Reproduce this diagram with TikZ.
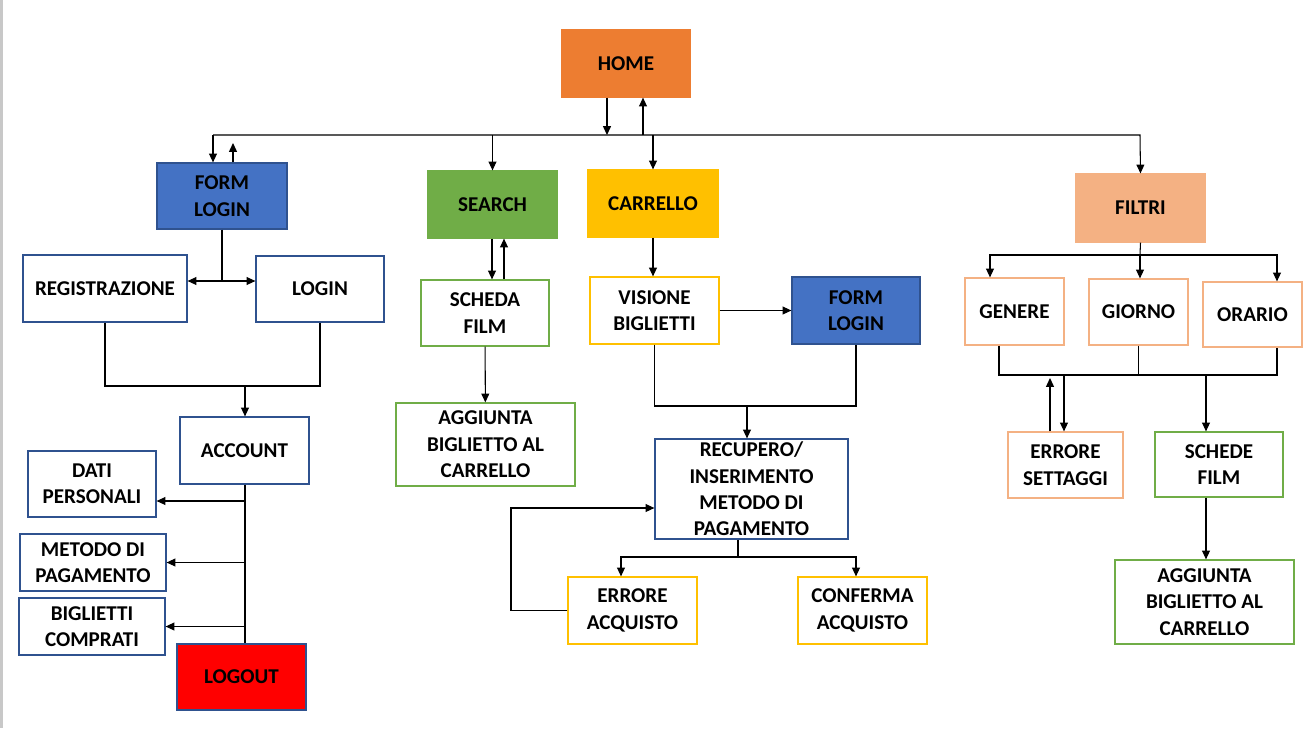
\documentclass[tikz,border=0pt]{standalone}
\usepackage{fontspec}
\setmainfont{Carlito}
\usepackage{xcolor}
\usepackage{tikz}
\usetikzlibrary{arrows.meta,positioning,calc}
\definecolor{homeorange}{HTML}{ED7D31}
\definecolor{formblue}  {HTML}{4472C4}
\definecolor{edgeblue}  {HTML}{2F528F}
\definecolor{leafgreen} {HTML}{70AD47}
\definecolor{cartyellow}{HTML}{FFC000}
\definecolor{peach}     {HTML}{F4B183}
\definecolor{stopred}   {HTML}{FF0000}
\definecolor{frame}     {HTML}{C8C8C8}
\newcommand{\boxfont}{\fontsize{12}{15}\selectfont\bfseries}

\begin{document}
\begin{tikzpicture}[x=0.02cm,y=-0.02cm,
  page/.style={rectangle,inner sep=0pt,align=center,font=\boxfont,text=black,line width=0.7pt},
  arr/.style={line width=0.6pt,-{Triangle[width=4.5pt,length=5pt]}},
  wire/.style={line width=0.6pt}]
\useasboundingbox (0,0) rectangle (1306,728);
\draw[frame,line width=1.2pt] (1.5,0) -- (1.5,728);
% top level
\node[page,fill=homeorange,draw=homeorange,minimum width=128*0.02cm,minimum height=67*0.02cm] (home) at (626,63.5) {HOME};
\node[page,fill=formblue,draw=edgeblue,minimum width=130*0.02cm,minimum height=66*0.02cm] (formL) at (222,196) {FORM\\LOGIN};
\node[page,fill=leafgreen,draw=leafgreen,minimum width=129*0.02cm,minimum height=67*0.02cm] (search) at (492.5,204.5) {SEARCH};
\node[page,fill=cartyellow,draw=cartyellow,minimum width=130*0.02cm,minimum height=67*0.02cm] (carrello) at (653,203.5) {CARRELLO};
\node[page,fill=peach,draw=peach,minimum width=129*0.02cm,minimum height=68*0.02cm] (filtri) at (1140.5,208) {FILTRI};
% account branch
\node[page,draw=edgeblue,minimum width=164*0.02cm,minimum height=67*0.02cm] (reg) at (105,288.5) {REGISTRAZIONE};
\node[page,draw=edgeblue,minimum width=128*0.02cm,minimum height=66*0.02cm] (login) at (320,289) {LOGIN};
\node[page,draw=edgeblue,minimum width=129*0.02cm,minimum height=67*0.02cm] (account) at (244.5,450.5) {ACCOUNT};
\node[page,draw=edgeblue,minimum width=128*0.02cm,minimum height=66*0.02cm] (dati) at (92,484) {DATI\\PERSONALI};
\node[page,draw=edgeblue,minimum width=146*0.02cm,minimum height=57*0.02cm] (metodo) at (93,562.5) {METODO DI\\PAGAMENTO};
\node[page,draw=edgeblue,minimum width=146*0.02cm,minimum height=57*0.02cm] (biglietti) at (92,626.5) {BIGLIETTI\\COMPRATI};
\node[page,fill=stopred,draw=edgeblue,minimum width=129*0.02cm,minimum height=66*0.02cm] (logout) at (241.5,677) {LOGOUT};
% search branch
\node[page,draw=leafgreen,minimum width=128*0.02cm,minimum height=66*0.02cm] (scheda) at (485,313) {SCHEDA\\FILM};
\node[page,draw=leafgreen,minimum width=179*0.02cm,minimum height=83*0.02cm] (aggL) at (485.5,444.5) {AGGIUNTA\\BIGLIETTO AL\\CARRELLO};
% cart branch
\node[page,draw=cartyellow,minimum width=129*0.02cm,minimum height=67*0.02cm] (visione) at (654.5,310.5) {VISIONE\\BIGLIETTI};
\node[page,fill=formblue,draw=edgeblue,minimum width=128*0.02cm,minimum height=67*0.02cm] (formR) at (856,310.5) {FORM\\LOGIN};
\node[page,draw=edgeblue,minimum width=193*0.02cm,minimum height=100*0.02cm] (recupero) at (751.5,489) {RECUPERO/\\INSERIMENTO\\METODO DI\\PAGAMENTO};
\node[page,draw=cartyellow,minimum width=129*0.02cm,minimum height=67*0.02cm] (errAcq) at (632.5,610.5) {ERRORE\\ACQUISTO};
\node[page,draw=cartyellow,minimum width=129*0.02cm,minimum height=67*0.02cm] (conferma) at (862.5,610.5) {CONFERMA\\ACQUISTO};
% filter branch
\node[page,draw=peach,minimum width=99*0.02cm,minimum height=67*0.02cm] (genere) at (1014.5,311.5) {GENERE};
\node[page,draw=peach,minimum width=99*0.02cm,minimum height=66*0.02cm] (giorno) at (1138.5,312) {GIORNO};
\node[page,draw=peach,minimum width=99*0.02cm,minimum height=65*0.02cm] (orario) at (1252.5,314.5) {ORARIO};
\node[page,draw=peach,minimum width=115*0.02cm,minimum height=66*0.02cm] (errSet) at (1065.5,465) {ERRORE\\SETTAGGI};
\node[page,draw=leafgreen,minimum width=128*0.02cm,minimum height=65*0.02cm] (schede) at (1219,464.5) {SCHEDE\\FILM};
\node[page,draw=leafgreen,minimum width=179*0.02cm,minimum height=84*0.02cm] (aggR) at (1204.5,602) {AGGIUNTA\\BIGLIETTO AL\\CARRELLO};
% junction points
\coordinate (busL) at (213,135);
\coordinate (busR) at (1140,135);
\coordinate (upL) at (233,143);
\coordinate (jL) at (222,281);
\coordinate (mA) at (245,386);
\coordinate (mR) at (747,406);
\coordinate (jR) at (738,557);
\coordinate (fb) at (511,508);
\coordinate (jF) at (1140,255);
\coordinate (mFl) at (999,375);
\coordinate (mFr) at (1277,375);
\coordinate (upF) at (1050,378);
% home bus
\draw[arr] (home.south -| 607,0) -- (607,0 |- busL);
\draw[arr] (643,0 |- busL) -- (home.south -| 643,0);
\draw[arr] (busL) -- (busR) -- (filtri.north);
\draw[arr] (busL) -- (formL.north -| busL);
\draw[arr] (formL.north -| upL) -- (upL);
\draw[arr] (busL -| search) -- (search.north);
\draw[arr] (busL -| carrello) -- (carrello.north);
% account links
\draw[wire] (formL.south) -- (jL);
\draw[arr] (jL) -- (reg.east |- jL);
\draw[arr] (jL) -- (login.west |- jL);
\draw[wire] (reg.south) |- (login.south |- mA) -- (login.south);
\draw[arr] (mA) -- (account.north -| mA);
\draw[wire] (account.south -| mA) -- (logout.north -| mA);
\draw[arr] (mA |- 0,501) -- (dati.east |- 0,501);
\draw[arr] (mA |- metodo.east) -- (metodo.east);
\draw[arr] (mA |- biglietti.east) -- (biglietti.east);
% search links
\draw[arr] (search.south -| 492,0) -- (scheda.north -| 492,0);
\draw[arr] (scheda.north -| 504,0) -- (search.south -| 504,0);
\draw[arr] (scheda) -- (aggL);
% cart links
\draw[arr] (carrello.south) -- (carrello.south |- visione.north);
\draw[arr] (visione.east) -- (formR.west);
\draw[wire] (visione.south) |- (formR.south |- mR) -- (formR.south);
\draw[arr] (mR) -- (recupero.north -| mR);
\draw[wire] (recupero.south -| jR) -- (jR);
\draw[arr] (jR) -| (errAcq.north -| 621,0);
\draw[arr] (jR) -| (conferma.north -| 856,0);
\draw[arr] (errAcq.west) -| (fb) -- (recupero.west |- fb);
% filter links
\draw[wire] (filtri.south) -- (jF);
\draw[arr] (jF) -| (genere.north -| 990,0);
\draw[arr] (jF) -- (giorno.north -| jF);
\draw[arr] (jF) -| (orario.north -| mFr);
\draw[wire] (genere.south -| mFl) -- (mFl) -- (mFr) -- (orario.south -| mFr);
\draw[wire] (giorno.south) -- (giorno.south |- mFl);
\draw[arr] (errSet.north -| upF) -- (upF);
\draw[arr] (mFl -| 1064,0) -- (errSet.north -| 1064,0);
\draw[arr] (mFl -| 1206,0) -- (schede.north -| 1206,0);
\draw[arr] (schede.south -| 1206,0) -- (aggR.north -| 1206,0);
\end{tikzpicture}
\end{document}
